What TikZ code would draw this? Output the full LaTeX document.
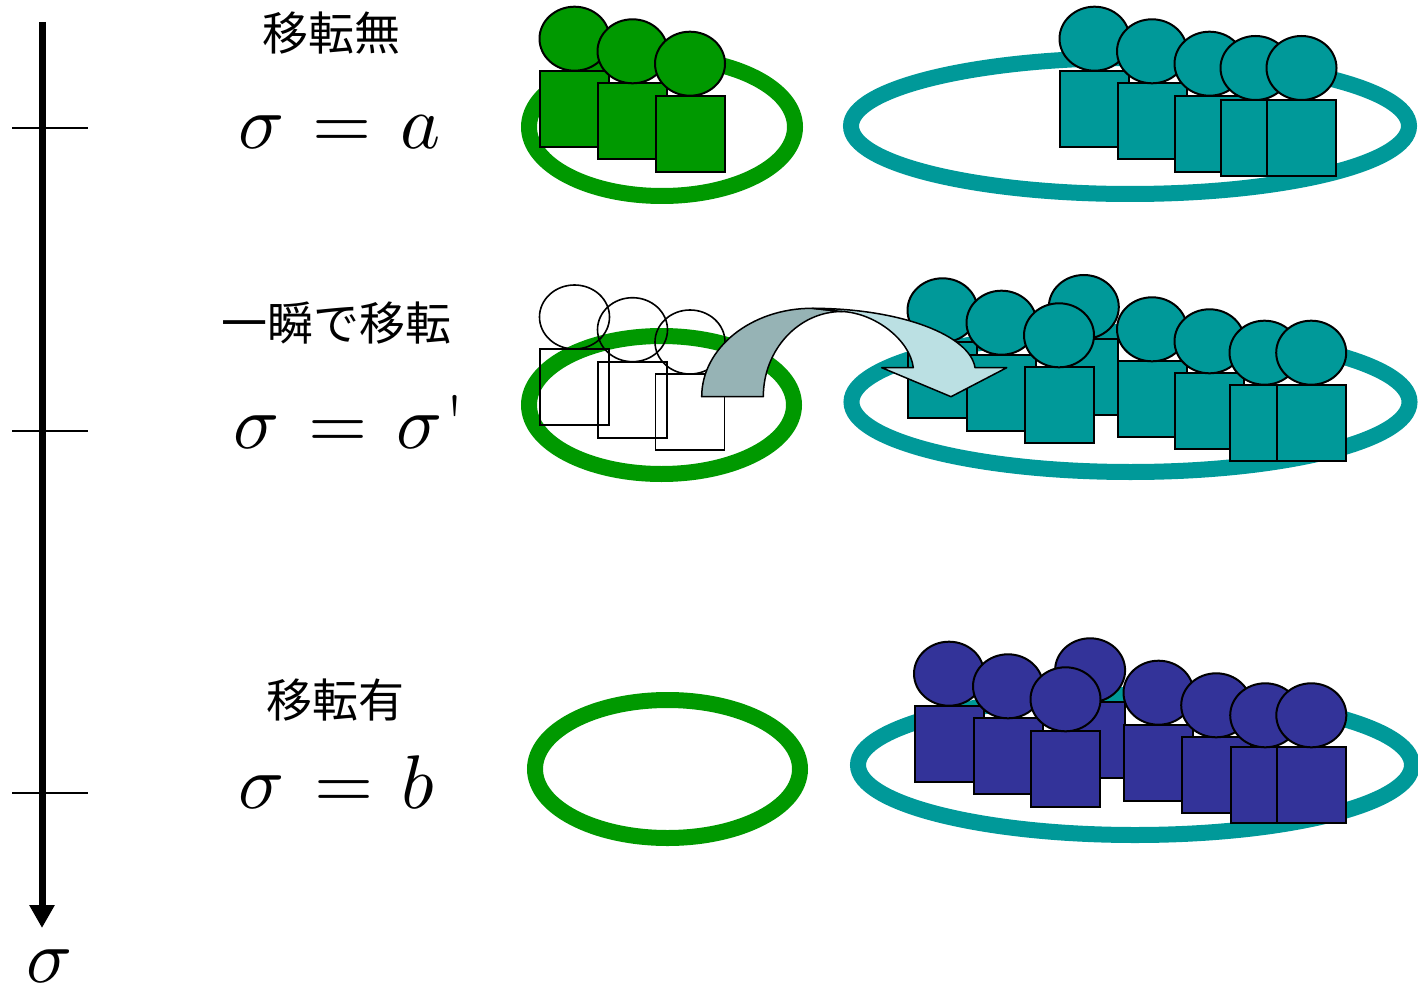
\documentclass[tikz,border=0pt]{standalone}
\usepackage{fontspec}
\usepackage{unicode-math}
\setmathfont{Latin Modern Math}
\newfontfamily\jpfont{Noto Sans CJK JP}
\usetikzlibrary{arrows.meta}
\definecolor{pgreen}{HTML}{009900}
\definecolor{pteal}{HTML}{009999}
\definecolor{pnavy}{HTML}{333399}
\definecolor{arrdark}{RGB}{150,179,181}
\definecolor{arrlight}{RGB}{187,224,227}
\tikzset{
  ring/.style={line width=16pt},
  fig/.style={draw=black, line width=2pt, fill=#1},
  hollow/.style={draw=black, line width=1.6pt},
  jp/.style={font=\jpfont\fontsize{46}{50}\selectfont, inner sep=0pt},
  mth/.style={font=\fontsize{76}{80}\selectfont, inner sep=0pt},
  tickline/.style={line width=1.6pt},
  arrowedge/.style={draw=black, line width=1.5pt, line join=round},
}
\newcommand\guy[3]{%
  \draw[#3] (#1,#2+64) rectangle ++(69,76);
  \draw[#3] (#1+34.5,#2+32) ellipse [x radius=35pt, y radius=32pt];
}
\begin{document}
\begin{tikzpicture}[x=1pt,y=-1pt]
\useasboundingbox (0,0) rectangle (1418,992);

% axis
\coordinate (axtop) at (42,22);
\coordinate (axend) at (42,928);
\draw[line width=7pt, -{Triangle[width=24pt,length=23pt]}] (axtop) -- (axend);
\draw[tickline] (12,128) -- (88,128);
\draw[tickline] (12,431) -- (88,431);
\draw[tickline] (12,793) -- (88,793);
\node[mth, anchor=base west] (saxis) at (26,982) {$\sigma$};

% labels
\node[jp] (t1) at (331.7,33.3) {移転無};
\node[mth, anchor=base west] (s1) at (238,148.3) {$\sigma$};
\node[mth, anchor=base] (e1) at (342,148.3) {$=$};
\node[mth, anchor=base west] (a1) at (400,148.3) {$a$};

\node[jp] (t2) at (336.7,322.5) {一瞬で移転};
\node[mth, anchor=base west] (s2) at (233,448.3) {$\sigma$};
\node[mth, anchor=base] (e2) at (338.3,448.3) {$=$};
\node[mth, anchor=base west] (s2b) at (396,448.3) {$\sigma$};
\node[mth, anchor=base] (p2) at (455,448.3) {\textquotesingle};

\node[jp] (t3) at (335,700) {移転有};
\node[mth, anchor=base west] (s3) at (238,808) {$\sigma$};
\node[mth, anchor=base] (e3) at (344,808) {$=$};
\node[mth, anchor=base west] (b3) at (401,808) {$b$};

% row 1
\draw[ring, pgreen] (662,127) ellipse [x radius=133pt, y radius=69pt];
\draw[ring, pteal] (1130,126) ellipse [x radius=279pt, y radius=68pt];
\guy{540}{6.7}{fig=pgreen}
\guy{598}{19.3}{fig=pgreen}
\guy{655.5}{31.7}{fig=pgreen}
\guy{1060}{6.7}{fig=pteal}
\guy{1117.5}{19.3}{fig=pteal}
\guy{1175}{31.7}{fig=pteal}
\guy{1221}{36}{fig=pteal}
\guy{1267}{36}{fig=pteal}

% row 2
\draw[ring, pgreen] (661.5,405) ellipse [x radius=132.5pt, y radius=69pt];
\draw[ring, pteal] (1130.5,402) ellipse [x radius=279pt, y radius=70pt];
\guy{540}{285}{hollow}
\guy{598}{297.7}{hollow}
\guy{655.5}{310}{hollow}
\guy{908}{278.3}{fig=pteal}
\guy{967}{290.7}{fig=pteal}
\guy{1049.3}{275}{fig=pteal}
\guy{1024.5}{303.3}{fig=pteal}
\guy{1117.5}{297.3}{fig=pteal}
\guy{1175}{309.3}{fig=pteal}
\guy{1230}{320.7}{fig=pteal}
\guy{1276.7}{320.7}{fig=pteal}

% curved arrow
\path[arrowedge, fill=arrdark] (701.7,396.7) .. controls (701.7,347.9) and (751.3,308.3) .. (812,308.3)
  -- (842,311.5) .. controls (798.6,311.5) and (763.3,349.8) .. (763.3,396.7) -- cycle;
\path[arrowedge, fill=arrlight] (812,308.3) .. controls (900,308.3) and (970,335) .. (975,367.7)
  -- (1006.7,367.7) -- (951,396.7) -- (881.7,367.7) -- (913.3,367.7)
  .. controls (910,340) and (875,313) .. (842,311.5) -- cycle;

% row 3
\draw[ring, pgreen] (667.5,769) ellipse [x radius=132.5pt, y radius=69pt];
\draw[ring, pteal] (1135,765) ellipse [x radius=277pt, y radius=70pt];
\guy{914.5}{641.7}{fig=pnavy}
\guy{973.5}{654.3}{fig=pnavy}
\guy{1055.6}{638.3}{fig=pnavy}
\guy{1031}{667.3}{fig=pnavy}
\guy{1124}{660.7}{fig=pnavy}
\guy{1181.7}{673.3}{fig=pnavy}
\guy{1230.7}{683.3}{fig=pnavy}
\guy{1276.8}{683.3}{fig=pnavy}
\end{tikzpicture}
\end{document}
